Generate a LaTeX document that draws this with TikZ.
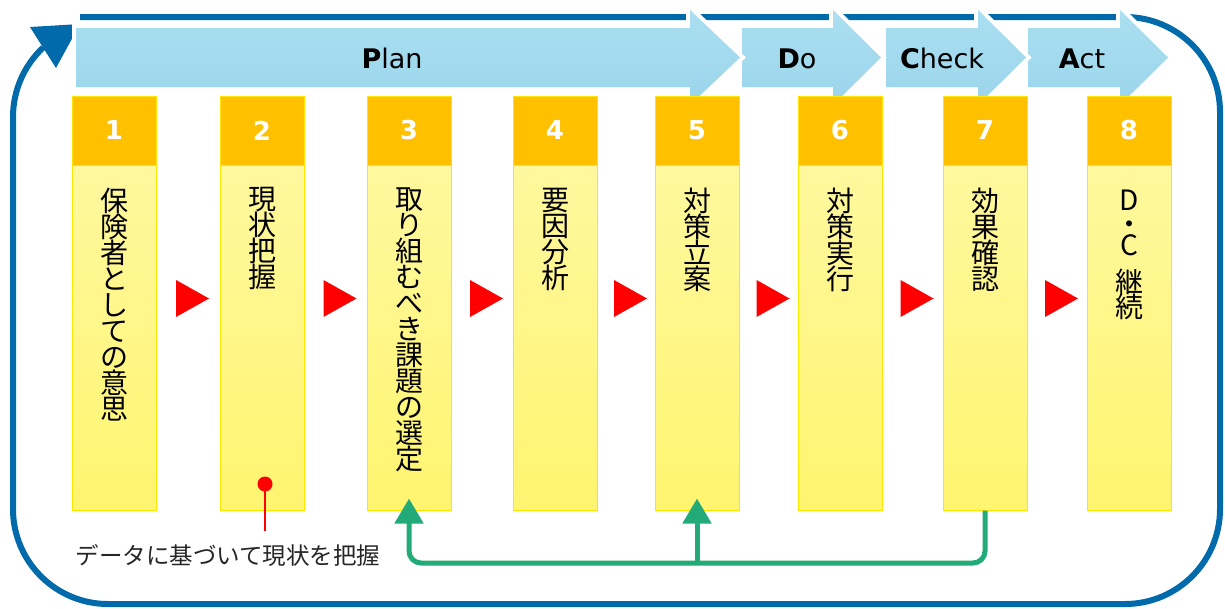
\documentclass[tikz,border=0pt]{standalone}
\usepackage{fontspec}
\setmainfont{DejaVu Sans}
\newfontfamily\jp{Noto Sans CJK JP}
\usetikzlibrary{arrows.meta,calc}
\definecolor{frameblue}{RGB}{0,106,170}
\definecolor{chevtop}{RGB}{171,223,241}
\definecolor{chevbot}{RGB}{155,213,235}
\definecolor{hdr}{RGB}{255,192,0}
\definecolor{bodytop}{RGB}{255,248,158}
\definecolor{bodybot}{RGB}{255,245,112}
\definecolor{bodyline}{RGB}{255,230,0}
\definecolor{flowgreen}{RGB}{34,170,120}
\definecolor{txtgray}{RGB}{38,38,38}
\begin{document}
\begin{tikzpicture}[x=1pt,y=1pt,
  frame/.style={draw=frameblue, line width=6pt},
  chevfill/.style={top color=chevtop, bottom color=chevbot},
  chevedge/.style={draw=white, line width=8pt, line join=miter},
  chevtext/.style={font=\fontsize{27}{30}\selectfont, text=black, inner sep=0pt, anchor=base},
  colhead/.style={rectangle, fill=hdr, draw=bodyline, line width=1pt, minimum width=84pt, minimum height=69pt, inner sep=0pt, text=white, font=\fontsize{26}{28}\selectfont\bfseries},
  colbody/.style={rectangle, top color=bodytop, bottom color=bodybot, draw=bodyline, line width=1pt, minimum width=84pt, minimum height=345pt, inner sep=0pt},
  coltext/.style={anchor=north, inner sep=0pt, align=center, font=\jp\fontsize{28}{26}\selectfont, text=black},
  stepmark/.style={fill=red, draw=none},
  loopline/.style={draw=flowgreen, line width=5pt, rounded corners=12pt},
  looptip/.style={-{Triangle[length=25pt,width=28pt]}},
  callout/.style={font=\jp\fontsize{23.5}{26}\selectfont, text=txtgray, inner sep=0pt},
]
\useasboundingbox (0,0) rectangle (1225,-608);

% outer cycle frame
\draw[frame] (80,-17) -- (1125,-17) arc[start angle=90,end angle=0,radius=95pt]
  -- (1220,-509) arc[start angle=0,end angle=-90,radius=95pt]
  -- (108,-604) arc[start angle=270,end angle=180,radius=95pt]
  -- (13,-117) arc[start angle=180,end angle=133,radius=95pt];
\fill[frameblue] (30,-27) -- (80,-24) -- (56,-68) -- cycle;

% PDCA chevrons (drawn right to left so each tip overlaps the next)
\foreach \a/\b/\c in {1028/1120/1168, 886/978/1026, 742/833/881, 76/690/740} {
  \draw[chevedge] (\a,-28) -- (\b,-28) -- (\b,-10) -- (\c,-57.5) -- (\b,-105) -- (\b,-87) -- (\a,-87) -- cycle;
  \shade[chevfill] (\a,-28) -- (\b,-28) -- (\b,-10) -- (\c,-57.5) -- (\b,-105) -- (\b,-87) -- (\a,-87) -- cycle;
}
\node[chevtext] (plan) at (392,-68) {\textbf{P}lan};
\node[chevtext] (do) at (797,-68) {\textbf{D}o};
\node[chevtext] (check) at (942,-68) {\textbf{C}heck};
\node[chevtext] (act) at (1082,-68) {\textbf{A}ct};

% columns
\foreach \i/\x in {1/114,2/262,3/409,4/555,5/697,6/840,7/985,8/1129} {
  \node[colbody] (b\i) at (\x,-337.5) {};
  \node[colhead] (h\i) at (\x,-130.5) {\i};
}
\node[coltext] (t1) at ([yshift=-23pt]b1.north) {保\\険\\者\\と\\し\\て\\の\\意\\思};
\node[coltext] (t2) at ([yshift=-23pt]b2.north) {現\\状\\把\\握};
\node[coltext] (t3) at ([yshift=-23pt]b3.north) {取\\り\\組\\む\\べ\\き\\課\\題\\の\\選\\定};
\node[coltext] (t4) at ([yshift=-23pt]b4.north) {要\\因\\分\\析};
\node[coltext] (t5) at ([yshift=-23pt]b5.north) {対\\策\\立\\案};
\node[coltext] (t6) at ([yshift=-23pt]b6.north) {対\\策\\実\\行};
\node[coltext] (t7) at ([yshift=-23pt]b7.north) {効\\果\\確\\認};
\node[coltext] (t8) at ([yshift=-25pt]b8.north) {D\\[-2pt]・\\[-4.6pt]C\\[10.6pt]継\\[-1pt]続};

% red step markers
\foreach \i/\j in {1/2,2/3,3/4,4/5,5/6,6/7,7/8} {
  \coordinate (m\i) at ($(b\i.east)!0.5!(b\j.west)$);
  \fill[stepmark] ([shift={(-12,57.5)}]m\i) -- ([shift={(21,39)}]m\i) -- ([shift={(-12,20.5)}]m\i) -- cycle;
}

% green feedback loop
\coordinate (gy) at (0,-563);
\draw[loopline, looptip] (b7.south) |- (b3.south |- gy) -- ([yshift=12pt]b3.south);
\draw[loopline, looptip, rounded corners=0pt] (b5.south |- gy) -- ([yshift=12pt]b5.south);

% callout
\node[circle, fill=red, inner sep=0pt, minimum size=15pt] (dot) at (265,-484) {};
\coordinate (dotend) at (265,-531);
\draw[red, line width=2pt] (dot.center) -- (dotend);
\node[callout] (note) at (228,-555) {データに基づいて現状を把握};
\end{tikzpicture}
\end{document}
